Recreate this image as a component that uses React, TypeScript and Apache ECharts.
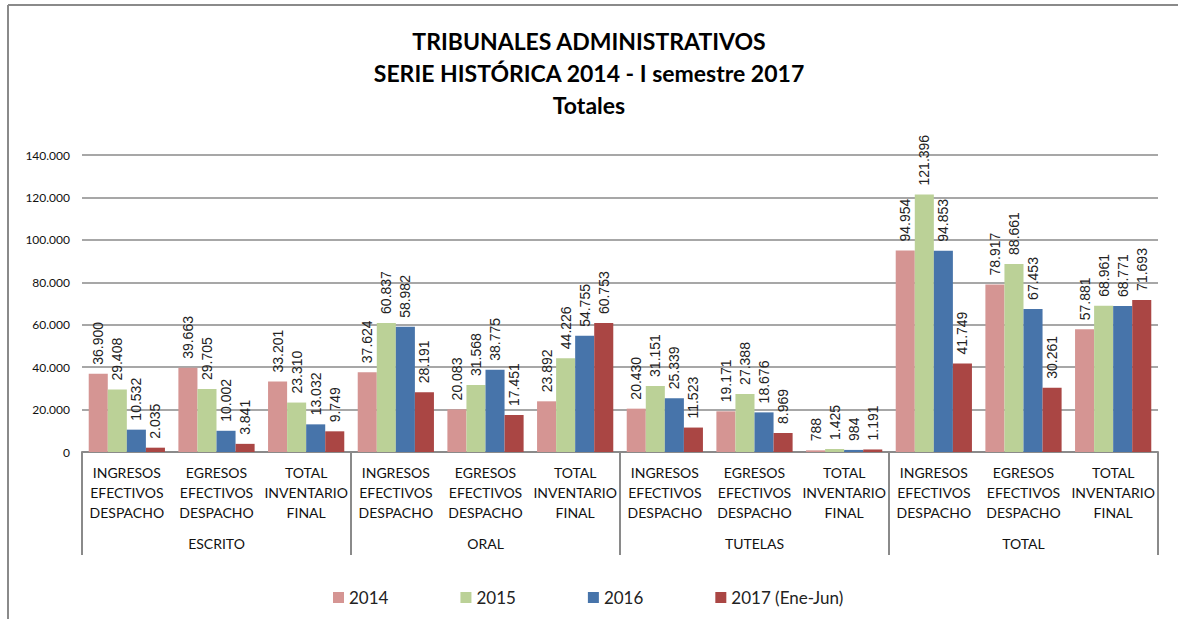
import React, { useEffect, useRef } from "react";
import * as echarts from "echarts";

const categories = [
  "INGRESOS\nEFECTIVOS\nDESPACHO", "EGRESOS\nEFECTIVOS\nDESPACHO", "TOTAL\nINVENTARIO\nFINAL",
  "INGRESOS\nEFECTIVOS\nDESPACHO", "EGRESOS\nEFECTIVOS\nDESPACHO", "TOTAL\nINVENTARIO\nFINAL",
  "INGRESOS\nEFECTIVOS\nDESPACHO", "EGRESOS\nEFECTIVOS\nDESPACHO", "TOTAL\nINVENTARIO\nFINAL",
  "INGRESOS\nEFECTIVOS\nDESPACHO", "EGRESOS\nEFECTIVOS\nDESPACHO", "TOTAL\nINVENTARIO\nFINAL",
];
const groups = ["ESCRITO", "ORAL", "TUTELAS", "TOTAL"];
const seriesNames = ["2014", "2015", "2016", "2017 (Ene-Jun)"];
const v2014 = [36900, 39663, 33201, 37624, 20083, 23892, 20430, 19171, 788, 94954, 78917, 57881];
const v2015 = [29408, 29705, 23310, 60837, 31568, 44226, 31151, 27388, 1425, 121396, 88661, 68961];
const v2016 = [10532, 10002, 13032, 58982, 38775, 54755, 25339, 18676, 984, 94853, 67453, 68771];
const v2017 = [2035, 3841, 9749, 28191, 17451, 60753, 11523, 8969, 1191, 41749, 30261, 71693];
const colors = ["#D59593", "#BBD197", "#4774AA", "#AA4644"];

const fmt = (v: number) => String(v).replace(/\B(?=(\d{3})+(?!\d))/g, ".");

export default function App() {
  const ref = useRef<HTMLDivElement>(null);
  useEffect(() => {
    const chart = echarts.init(ref.current!, null, { renderer: "svg" });
    const values = [v2014, v2015, v2016, v2017];
    chart.setOption({
      animation: false,
      backgroundColor: "#ffffff",
      textStyle: { fontFamily: "Lato" },
      title: {
        text: "TRIBUNALES ADMINISTRATIVOS\nSERIE HISTÓRICA 2014 - I semestre 2017\nTotales",
        left: "center",
        top: 20,
        padding: [5, 5, 5, 23],
        textStyle: { fontFamily: "Lato", fontSize: 23, fontWeight: "bold", color: "#000", lineHeight: 32 },
      },
      graphic: [
        { type: "line", shape: { x1: 8, y1: 5, x2: 1178, y2: 5 }, style: { stroke: "#8a8a8a", lineWidth: 2 } },
        { type: "line", shape: { x1: 8, y1: 5, x2: 8, y2: 619 }, style: { stroke: "#8a8a8a", lineWidth: 2 } },
      ],
      legend: {
        data: seriesNames,
        left: 328,
        top: 584,
        itemWidth: 11,
        itemHeight: 11,
        itemGap: 72,
        icon: "rect",
        textStyle: { fontFamily: "Lato", fontSize: 17, color: "#222" },
      },
      grid: { left: 82, right: 20, top: 155, bottom: 167 },
      xAxis: [
        {
          type: "category",
          data: categories,
          position: "bottom",
          axisLine: { show: true, lineStyle: { color: "#8a8a8a", width: 2 } },
          axisTick: { show: false },
          axisLabel: { interval: 0, margin: 10, fontSize: 14, lineHeight: 20, color: "#111", fontFamily: "Lato" },
        },
        {
          type: "category",
          data: groups,
          position: "bottom",
          axisLine: { show: false },
          axisTick: { show: true, length: 103, lineStyle: { color: "#8a8a8a", width: 2 } },
          axisLabel: { interval: 0, margin: 84, fontSize: 14, color: "#111", fontFamily: "Lato" },
        },
      ],
      yAxis: {
        type: "value",
        min: 0,
        max: 140000,
        interval: 20000,
        axisLine: { show: false },
        axisTick: { show: false },
        splitLine: { lineStyle: { color: "#8a8a8a", width: 1.5 } },
        axisLabel: { formatter: (v: number) => fmt(v), fontSize: 12, color: "#111", margin: 12, fontFamily: "Lato" },
      },
      series: seriesNames.map((name, i) => ({
        name,
        type: "bar",
        xAxisIndex: 0,
        data: values[i],
        barGap: "0%",
        barCategoryGap: "15%",
        itemStyle: { color: colors[i] },
        label: {
          show: true,
          position: "top",
          rotate: 90,
          align: "left",
          verticalAlign: "middle",
          distance: 9,
          formatter: (p: any) => fmt(p.value),
          fontFamily: "Liberation Sans",
          fontSize: 14,
          color: "#222",
        },
      })),
    });
    return () => chart.dispose();
  }, []);
  return <div ref={ref} style={{ position: "fixed", left: 0, top: 0, width: 1178, height: 619 }} />;
}
